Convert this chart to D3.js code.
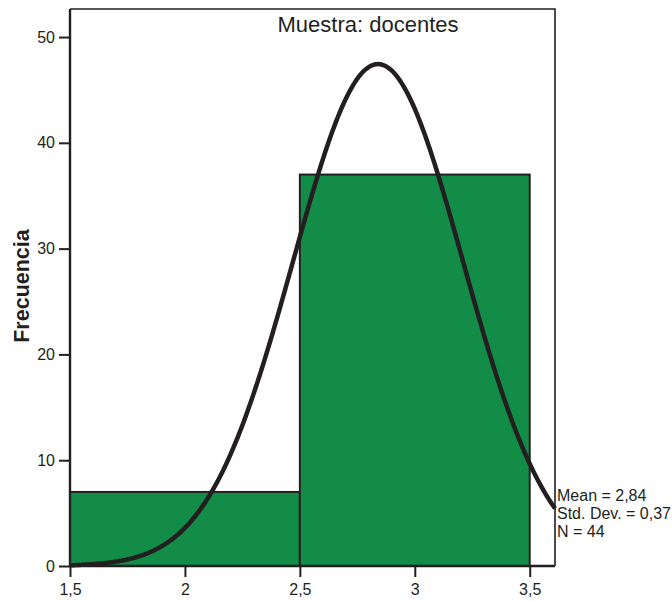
<!DOCTYPE html>
<html>
<head>
<meta charset="utf-8">
<script src="https://cdn.jsdelivr.net/npm/d3@7"></script>
<style>
  html, body { margin: 0; padding: 0; background: #fff; }
  svg { display: block; }
  text { font-family: "Liberation Sans", Arial, sans-serif; fill: #231f20; }
</style>
</head>
<body>
<svg id="chart" width="672" height="601"></svg>
<script>
// Histogram bins (lower edge, upper edge) and their frequencies
const binStarts = [1.5, 2.5];
const binEnds = [2.5, 3.5];
const frequencies = [7, 37];

// Summary statistics used for the fitted normal curve
const mean = 2.84;
const stdDev = 0.37;
const n = 44;

// Axis ticks
const xTicks = [1.5, 2, 2.5, 3, 3.5];
const yTicks = [0, 10, 20, 30, 40, 50];

const title = "Muestra: docentes";
const yLabel = "Frecuencia";
const statLines = ["Mean = 2,84", "Std. Dev. = 0,37", "N = 44"];

const ink = "#231f20";
const barFill = "#128c47";
const fmt = v => String(v).replace(".", ",");

const svg = d3.select("#chart");

const x = d3.scaleLinear().domain([1.5, 3.61]).range([70, 555]);
const y = d3.scaleLinear().domain([0, 52.65]).range([566, 9]);

// Bars
const bins = binStarts.map((s, i) => ({ x0: s, x1: binEnds[i], f: frequencies[i] }));
svg.append("g").selectAll("rect").data(bins).join("rect")
  .attr("x", d => x(d.x0))
  .attr("y", d => y(d.f))
  .attr("width", d => x(d.x1) - x(d.x0))
  .attr("height", d => y(0) - y(d.f))
  .attr("fill", barFill)
  .attr("stroke", ink)
  .attr("stroke-width", 2);

// Plot frame (top and right edges)
svg.append("path")
  .attr("d", `M${x(1.5)},${y(52.65)}H${x(3.61)}V${y(0)}`)
  .attr("fill", "none").attr("stroke", ink).attr("stroke-width", 1.6);

// Normal curve scaled to counts (bin width 1)
const binWidth = binEnds[0] - binStarts[0];
const density = v => n * binWidth / (stdDev * Math.sqrt(2 * Math.PI)) *
  Math.exp(-0.5 * Math.pow((v - mean) / stdDev, 2));
const curveXs = d3.range(1.5, 3.6101, 0.005);
svg.append("path")
  .datum(curveXs)
  .attr("d", d3.line().x(v => x(v)).y(v => y(density(v))).curve(d3.curveBasis))
  .attr("fill", "none").attr("stroke", ink).attr("stroke-width", 4.5)
  .attr("stroke-linecap", "butt");

// Y axis
const yAxis = svg.append("g").attr("transform", `translate(${x(1.5)},0)`)
  .call(d3.axisLeft(y).tickValues(yTicks).tickSize(11).tickPadding(4).tickFormat(fmt));
yAxis.select(".domain").attr("d", `M0,${y(52.65)}V${y(0)}`)
  .attr("stroke", ink).attr("stroke-width", 2.4);
yAxis.selectAll(".tick line").attr("stroke", ink).attr("stroke-width", 2);
yAxis.selectAll(".tick text").attr("font-size", 16).attr("fill", ink)
  .style("font-family", '"Liberation Sans", Arial, sans-serif');

// X axis
const xAxis = svg.append("g").attr("transform", `translate(0,${y(0)})`)
  .call(d3.axisBottom(x).tickValues(xTicks).tickSize(11).tickPadding(7).tickFormat(fmt));
xAxis.select(".domain").attr("d", `M${x(1.5)},0H${x(3.61)}`)
  .attr("stroke", ink).attr("stroke-width", 2.4);
xAxis.selectAll(".tick line").attr("stroke", ink).attr("stroke-width", 2);
xAxis.selectAll(".tick text").attr("font-size", 16).attr("fill", ink)
  .style("font-family", '"Liberation Sans", Arial, sans-serif');

// Title
svg.append("text")
  .attr("x", 368).attr("y", 32)
  .attr("text-anchor", "middle")
  .attr("font-size", 22)
  .text(title);

// Y axis label
svg.append("text")
  .attr("transform", "translate(29,286) rotate(-90)")
  .attr("text-anchor", "middle")
  .attr("font-size", 21.5)
  .attr("font-weight", "bold")
  .text(yLabel);

// Statistics box text
svg.append("g").selectAll("text").data(statLines).join("text")
  .attr("x", 557)
  .attr("y", (d, i) => 501 + i * 18)
  .attr("font-size", 16)
  .text(d => d);
</script>
</body>
</html>
